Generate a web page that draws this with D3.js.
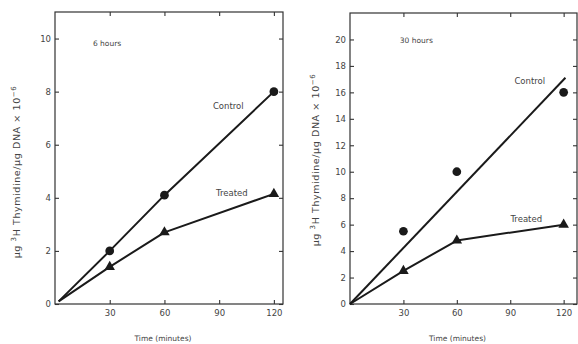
<!DOCTYPE html>
<html>
<head>
<meta charset="utf-8">
<script src="https://cdn.jsdelivr.net/npm/d3@7"></script>
<style>
  body { margin: 0; background: #fff; }
  svg { display: block; }
  text { font-family: "DejaVu Sans", sans-serif; fill: #444; }
</style>
</head>
<body>
<svg id="chart" width="578" height="344"></svg>
<script>
// Sampling times shared by both panels.
const timeTicks = [30, 60, 90, 120];
const sampleTimes = [30, 60, 120];

// 6 hours panel.
const ticks6h = [0, 2, 4, 6, 8, 10];
const control6h = [2.0, 4.1, 8.0];
const treated6h = [1.4, 2.7, 4.15];
const lineStart6h = [2, 0.1];   // both curves begin just off the origin

// 30 hours panel. Control points are scattered round a straight fitted line.
const ticks30h = [0, 2, 4, 6, 8, 10, 12, 14, 16, 18, 20];
const control30h = [5.5, 10.0, 16.0];
const treated30h = [2.5, 4.8, 6.0];
const lineStart30h = [0, 0];
const controlFit30h = [[0, 0], [121, 17.1]];

const svg = d3.select('#chart');
svg.append('rect').attr('width', 578).attr('height', 344).attr('fill', '#fff');

function drawPanel (p) {
  const x = d3.scaleLinear().domain([0, p.xMax]).range([p.left, p.right]);
  const y = d3.scaleLinear().domain([0, p.yMax]).range([p.bottom, p.top]);
  const g = svg.append('g');

  // Frame with inward ticks on all four sides.
  g.append('rect')
    .attr('x', p.left).attr('y', p.top)
    .attr('width', p.right - p.left).attr('height', p.bottom - p.top)
    .attr('fill', 'none').attr('stroke', '#333').attr('stroke-width', 1.2);

  const axes = [
    [d3.axisBottom(x).tickValues(timeTicks).tickPadding(6), `translate(0,${p.bottom})`],
    [d3.axisTop(x).tickValues(timeTicks).tickFormat(''), `translate(0,${p.top})`],
    [d3.axisLeft(y).tickValues(p.yTicks).tickPadding(4), `translate(${p.left},0)`],
    [d3.axisRight(y).tickValues(p.yTicks).tickFormat(''), `translate(${p.right},0)`]
  ];
  axes.forEach(([axis, tr]) => {
    const a = g.append('g').attr('transform', tr)
      .call(axis.tickSizeInner(-4).tickSizeOuter(0));
    a.select('.domain').remove();
    a.selectAll('line').attr('stroke', '#333').attr('stroke-width', 1.1);
    a.selectAll('text').attr('font-size', 8.5).attr('fill', '#444')
      .attr('font-family', '"DejaVu Sans", sans-serif');
  });

  const line = d3.line().x(d => x(d[0])).y(d => y(d[1]));

  p.curves.forEach(c => {
    g.append('path')
      .attr('d', line(c))
      .attr('fill', 'none').attr('stroke', '#1a1a1a')
      .attr('stroke-width', 2).attr('stroke-linejoin', 'round');
  });

  p.markers.forEach(m => {
    g.selectAll(null)
      .data(sampleTimes.map((t, i) => [t, m.values[i]]))
      .enter().append('path')
      .attr('transform', d => `translate(${x(d[0])},${y(d[1])})`)
      .attr('d', d3.symbol(m.symbol, m.size))
      .attr('fill', '#1a1a1a');
  });

  p.notes.forEach(n => {
    g.append('text')
      .attr('x', x(n.t)).attr('y', y(n.v))
      .attr('text-anchor', n.anchor || 'middle')
      .attr('font-size', n.size)
      .text(n.text);
  });

  // Axis titles.
  g.append('text')
    .attr('x', (p.left + p.right) / 2 - 6).attr('y', 341)
    .attr('text-anchor', 'middle').attr('font-size', 7.5)
    .text('Time (minutes)');

  const yt = g.append('text')
    .attr('transform', `translate(${p.titleX},${p.titleY}) rotate(-90)`)
    .attr('text-anchor', 'middle').attr('font-size', 9.5)
    .attr('letter-spacing', 0.6);
  yt.append('tspan').text('µg ');
  yt.append('tspan').attr('dy', -4).attr('font-size', 7).text('3');
  yt.append('tspan').attr('dy', 4).text('H Thymidine/µg DNA × 10');
  yt.append('tspan').attr('dy', -4).attr('font-size', 7).text('−6');
}

drawPanel({
  left: 55, right: 283, top: 12, bottom: 304,
  xMax: 125, yMax: 11, yTicks: ticks6h,
  titleX: 20, titleY: 172,
  curves: [
    [lineStart6h].concat(sampleTimes.map((t, i) => [t, control6h[i]])),
    [lineStart6h].concat(sampleTimes.map((t, i) => [t, treated6h[i]]))
  ],
  markers: [
    { values: control6h, symbol: d3.symbolCircle, size: 60 },
    { values: treated6h, symbol: d3.symbolTriangle, size: 48 }
  ],
  notes: [
    { text: '6 hours', t: 20.8, v: 9.72, anchor: 'start', size: 7.5 },
    { text: 'Control', t: 95, v: 7.36, size: 8.5 },
    { text: 'Treated', t: 97, v: 4.07, size: 8.5 }
  ]
});

drawPanel({
  left: 350, right: 577, top: 13, bottom: 304,
  xMax: 127.5, yMax: 22, yTicks: ticks30h,
  titleX: 319, titleY: 160,
  curves: [
    controlFit30h,
    [lineStart30h].concat(sampleTimes.map((t, i) => [t, treated30h[i]]))
  ],
  markers: [
    { values: control30h, symbol: d3.symbolCircle, size: 60 },
    { values: treated30h, symbol: d3.symbolTriangle, size: 48 }
  ],
  notes: [
    { text: '30 hours', t: 28, v: 19.7, anchor: 'start', size: 7.5 },
    { text: 'Control', t: 101, v: 16.6, size: 8.5 },
    { text: 'Treated', t: 99, v: 6.2, size: 8.5 }
  ]
});
</script>
</body>
</html>
